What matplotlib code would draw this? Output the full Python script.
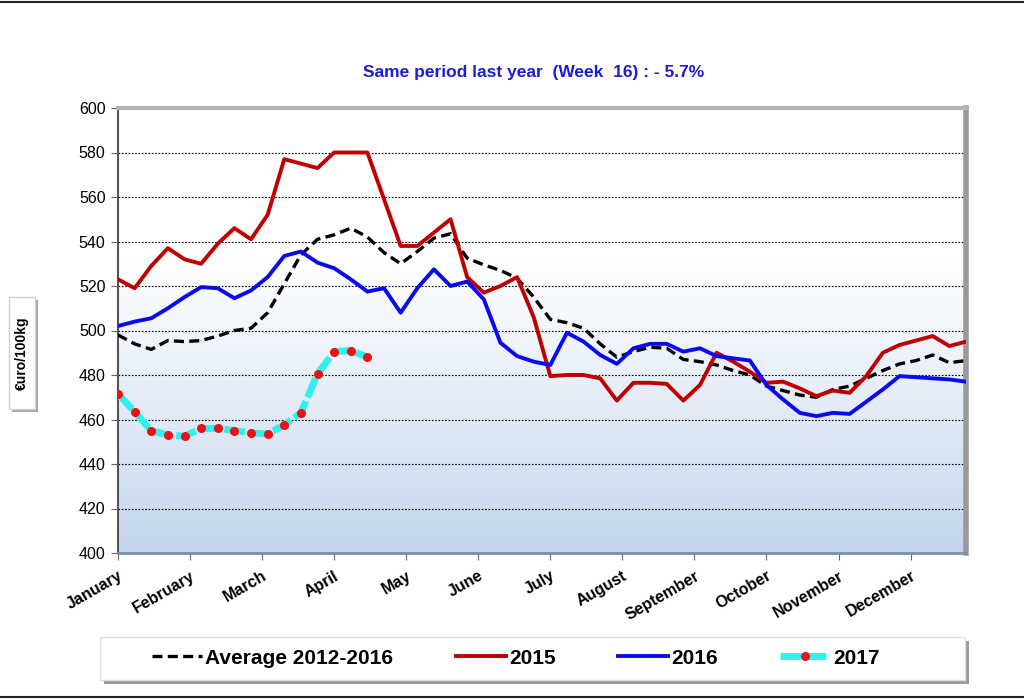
import numpy as np
import matplotlib.pyplot as plt
from matplotlib.colors import LinearSegmentedColormap
from matplotlib.patches import Rectangle

# weekly prices, €uro/100kg
weeks = list(range(1, 53))
avg_2012_2016 = [498, 494, 491.5, 495.5, 495, 495.5, 497.5, 500, 501, 508,
                 521, 534, 541, 543, 546, 542, 535, 530, 535.5, 541.5,
                 543.5, 532.5, 529.5, 527, 523.5, 515, 505, 503.5, 501, 494,
                 488, 490.5, 492.5, 492, 487, 486, 484.5, 482, 480, 475,
                 473, 471, 470, 473.5, 475, 478.5, 482, 485, 486.5, 489,
                 485.5, 486.5]
y2015 = [523, 519, 529, 537, 532, 530, 539, 546, 541, 552,
         577, 575, 573, 580, 580, 580, 559, 538, 538, 544,
         550, 524, 517, 520, 524, 506, 479.5, 480, 480, 478.5,
         468.5, 476.5, 476.5, 476, 468.5, 475.5, 490, 486, 481.5, 476.5,
         477, 474, 470.5, 473, 472, 479.5, 490, 493.5, 495.5, 497.5,
         493, 495]
y2016 = [502, 504, 505.5, 510, 515, 519.5, 519, 514.5, 518, 524,
         533.5, 535.5, 530.5, 528, 523, 517.5, 519, 508, 519, 527.5,
         520, 522, 514, 494.5, 488.5, 486, 484.5, 499, 495, 489,
         485, 492, 494, 494, 490.5, 492, 488.5, 487.5, 486.5, 475.5,
         469, 463, 461.5, 463, 462.5, 468, 473.5, 479.5, 479, 478.5,
         478, 477]
weeks_2017 = list(range(1, 17))
y2017 = [471.5, 463.5, 455, 453, 452.5, 456, 456, 455, 454, 453.5,
         457.5, 463, 480.5, 490.5, 491, 488]

months = ['January', 'February', 'March', 'April', 'May', 'June', 'July',
          'August', 'September', 'October', 'November', 'December']
month_pos = [1 + i * 52 / 12 for i in range(12)]

plt.rcParams['font.family'] = ['Liberation Sans', 'DejaVu Sans']

fig = plt.figure(figsize=(10.24, 6.99), dpi=100)
ax = fig.add_axes([118 / 1024, 1 - 553 / 699, 848 / 1024, 445 / 699])

# background gradient: white on top, pale blue at the bottom
cmap = LinearSegmentedColormap.from_list('bg', ['#c3d5ec', '#e4ecf7', '#ffffff', '#ffffff'])
grad = np.linspace(0, 1, 256).reshape(-1, 1)
ax.imshow(grad, extent=[1, 52, 400, 600], origin='lower', aspect='auto',
          cmap=cmap, zorder=0)

# dotted grid
for v in range(420, 600, 20):
    ax.axhline(v, color='black', linestyle=(0, (1.5, 1.5)), linewidth=0.8, zorder=1)

ax.plot(weeks, avg_2012_2016, color='black', linestyle=(0, (3, 1.6)), linewidth=2.4,
        label='Average 2012-2016', zorder=3)
ax.plot(weeks, y2015, color='#c00000', linewidth=2.8, label='2015', zorder=4)
ax.plot(weeks, y2016, color='#0a0af0', linewidth=2.8, label='2016', zorder=4)
ax.plot(weeks_2017, y2017, color='#33f0f0', linewidth=5, linestyle=(0, (3, 0.6)),
        marker='o', markersize=5.5, markerfacecolor='#ee1111', markeredgecolor='#ee1111',
        label='2017', zorder=5)

ax.set_xlim(1, 52)
ax.set_ylim(400, 600)
ax.set_yticks(range(400, 601, 20))
ax.set_xticks(month_pos)
ax.set_xticklabels(months, rotation=30, ha='right', rotation_mode='anchor',
                   fontsize=11.5, fontweight='bold')
ax.tick_params(axis='y', labelsize=11.5, length=5, color='#666666', pad=4)
ax.tick_params(axis='x', length=5, color='#666666', pad=6)

ax.spines['left'].set_color('#555555')
ax.spines['left'].set_linewidth(1.5)
ax.spines['top'].set_color('#b5b5b5')
ax.spines['top'].set_linewidth(3)
ax.spines['right'].set_color('#9a9a9a')
ax.spines['right'].set_linewidth(4)
ax.spines['bottom'].set_color('#7d8ea6')
ax.spines['bottom'].set_linewidth(2)

fig.text(534 / 1024, 1 - 72 / 699, 'Same period last year  (Week  16) : - 5.7%',
         ha='center', va='center', fontsize=12.5, fontweight='bold', color='#1c1cd8',
         family=['Liberation Sans Narrow', 'Liberation Sans', 'DejaVu Sans'])

# y axis title in a small box with shadow
fig.patches.append(Rectangle((12 / 1024, 1 - 412 / 699), 26 / 1024, 112 / 699,
                             transform=fig.transFigure, facecolor='#a8a8a8',
                             edgecolor='none', zorder=0))
fig.patches.append(Rectangle((9 / 1024, 1 - 409 / 699), 26 / 1024, 112 / 699,
                             transform=fig.transFigure, facecolor='white',
                             edgecolor='#d0d0d0', zorder=0))
fig.text(22 / 1024, 1 - 353 / 699, '€uro/100kg', rotation=90, ha='center', va='center',
         fontsize=10, fontweight='bold')

# legend box with shadow
fig.patches.append(Rectangle((104 / 1024, 1 - 684 / 699), 865 / 1024, 43 / 699,
                             transform=fig.transFigure, facecolor='#9a9a9a',
                             edgecolor='none', zorder=0))
fig.patches.append(Rectangle((100 / 1024, 1 - 680 / 699), 865 / 1024, 43 / 699,
                             transform=fig.transFigure, facecolor='white',
                             edgecolor='#e0e0e0', zorder=0))
fig.legend(loc='center', bbox_to_anchor=(516 / 1024, 1 - 658 / 699), ncol=4,
           frameon=False, handlelength=2.4, handletextpad=0.15, columnspacing=3.0,
           prop={'weight': 'bold', 'size': 15})

# top and bottom frame lines
fig.add_artist(plt.Line2D([0, 1], [1 - 1.5 / 699, 1 - 1.5 / 699], color='#222222', linewidth=1.5))
fig.add_artist(plt.Line2D([0, 1], [1 - 697 / 699, 1 - 697 / 699], color='#222222', linewidth=1.5))

fig.savefig('out.png', dpi=100)
